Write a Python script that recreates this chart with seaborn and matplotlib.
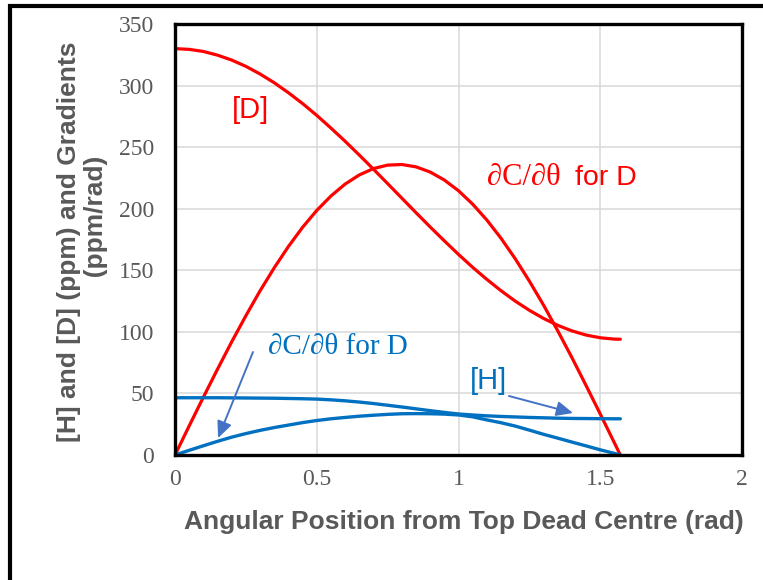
import matplotlib
matplotlib.use("Agg")
import matplotlib.pyplot as plt
import matplotlib.patches as patches
import seaborn as sns

# angular position (rad) and the four curves
theta = [0, 0.05, 0.1, 0.15, 0.2, 0.25, 0.3, 0.35, 0.4, 0.45, 0.5, 0.55, 0.6, 0.65,
         0.7, 0.75, 0.8, 0.85, 0.9, 0.95, 1.0, 1.05, 1.1, 1.15, 1.2, 1.25, 1.3, 1.35,
         1.4, 1.45, 1.5, 1.55, 1.5708]
conc_D = [330, 329.4, 327.7, 324.7, 320.7, 315.6, 309.4, 302.3, 294.2, 285.4, 275.8,
          265.5, 254.8, 243.6, 232.1, 220.4, 208.6, 196.8, 185.2, 173.9, 162.9, 152.4,
          142.6, 133.4, 125.0, 117.5, 110.9, 105.3, 100.8, 97.4, 95.2, 94.1, 94.0]
grad_D = [0, 23.6, 46.9, 69.7, 91.9, 113.1, 133.3, 152.0, 169.3, 184.9, 198.6, 210.3,
          220.0, 227.4, 232.6, 235.4, 235.9, 234.0, 229.8, 223.3, 214.6, 203.7, 190.8,
          176.0, 159.4, 141.2, 121.7, 100.9, 79.1, 56.4, 33.3, 9.8, 0]
conc_H = [46.5, 46.5, 46.5, 46.5, 46.4, 46.3, 46.2, 46.1, 45.9, 45.7, 45.4, 44.8,
          44.0, 43.0, 41.8, 40.4, 39.0, 37.5, 36.0, 34.6, 33.3, 32.5, 31.8, 31.3,
          30.9, 30.5, 30.2, 29.9, 29.7, 29.6, 29.5, 29.4, 29.4]
grad_H = [0, 3.8, 7.5, 11.1, 14.5, 17.4, 20.0, 22.3, 24.3, 26.3, 28.0, 29.4, 30.5,
          31.5, 32.3, 33.0, 33.5, 33.6, 33.5, 33.2, 32.5, 31.0, 28.5, 26.2, 23.5,
          20.2, 16.8, 13.7, 10.5, 7.4, 4.2, 1.3, 0]

xticks = [0, 0.5, 1, 1.5, 2]
xtick_labels = ["0", "0.5", "1", "1.5", "2"]
yticks = [0, 50, 100, 150, 200, 250, 300, 350]

red = "#FF0000"
blue = "#0070C0"
arrow_blue = "#4472C4"
grey = "#595959"

sns.set_style("white")
plt.rcParams['font.family'] = ['Liberation Sans', 'DejaVu Sans']

fig = plt.figure(figsize=(7.63, 5.8), dpi=100)
ax = fig.add_axes([175 / 763, 1 - 455 / 580, 567 / 763, 431 / 580])

ax.grid(True, color="#D9D9D9", linewidth=1.1)
ax.set_axisbelow(True)

sns.lineplot(x=theta, y=conc_D, color=red, linewidth=2.3, ax=ax)
sns.lineplot(x=theta, y=grad_D, color=red, linewidth=2.3, ax=ax)
sns.lineplot(x=theta, y=conc_H, color=blue, linewidth=2.4, ax=ax)
sns.lineplot(x=theta, y=grad_H, color=blue, linewidth=2.4, ax=ax)

ax.set_xlim(0, 2)
ax.set_ylim(0, 350)
ax.set_xticks(xticks)
ax.set_xticklabels(xtick_labels)
ax.set_yticks(yticks)

for s in ax.spines.values():
    s.set_visible(True)
    s.set_color("black")
    s.set_linewidth(2.4)

ax.tick_params(direction="in", length=6, width=2.4, color="black",
               labelcolor=grey, labelsize=17)
ax.tick_params(axis="x", pad=10)
ax.tick_params(axis="y", pad=15)
for lab in ax.get_xticklabels() + ax.get_yticklabels():
    lab.set_family("Liberation Serif")

ax.set_xlabel("Angular Position from Top Dead Centre (rad)", fontsize=19,
              fontweight="bold", color=grey)
ax.xaxis.label.set_va("center")
ax.xaxis.set_label_coords(0.51, -0.155)

# second line sits a little above centre in the original, hence the leading spaces
ax.set_ylabel("[H] and [D] (ppm) and Gradients\n       (ppm/rad)", fontsize=19,
              fontweight="bold", color=grey, linespacing=1.15)
ax.yaxis.label.set_va("center")
ax.yaxis.label.set_ha("center")
ax.yaxis.set_label_coords(-0.163, 0.494)

# in-plot labels
ax.text(0.201, 280, "[D]", color=red, fontsize=21, ha="left", va="center")
ax.text(1.10, 225, "∂C/∂θ", color=red, fontsize=22, ha="left", va="center",
        family="Liberation Serif")
ax.text(1.411, 225, "for D", color=red, fontsize=20.5, ha="left", va="center")
ax.text(0.328, 88, "∂C/∂θ for D", color=blue, fontsize=21, ha="left", va="center",
        family="Liberation Serif")
ax.text(1.04, 60, "[H]", color=blue, fontsize=21, ha="left", va="center")

arrow_style = dict(arrowstyle="-|>,head_length=1.0,head_width=0.45",
                   color=arrow_blue, lw=1.4, shrinkA=0, shrinkB=0)
ax.annotate("", xy=(0.152, 13.8), xytext=(0.275, 83.6), arrowprops=arrow_style)
ax.annotate("", xy=(1.404, 34.1), xytext=(1.178, 47.9), arrowprops=arrow_style)

# outer frame of the original chart area (runs off the right and bottom edges)
frame = patches.Rectangle((10 / 763, -0.2), 1.3, 1 - 5.7 / 580 + 0.2,
                          transform=fig.transFigure, fill=False,
                          edgecolor="black", linewidth=3, clip_on=False)
fig.patches.append(frame)

fig.savefig("out.png", dpi=100)
